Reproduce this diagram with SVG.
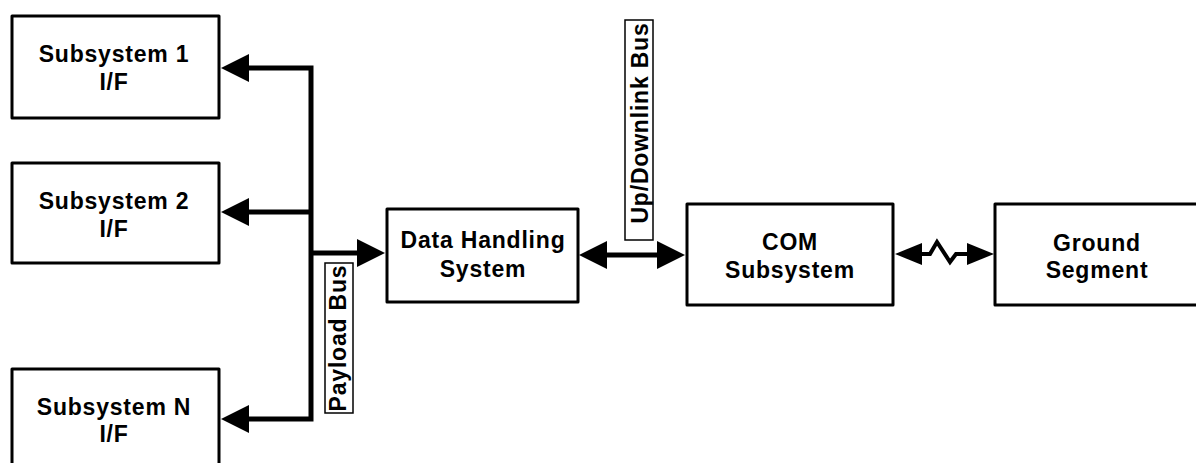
<svg xmlns="http://www.w3.org/2000/svg" width="1196" height="463" viewBox="0 0 1196 463">
  <style>
    .box { fill: #fff; stroke: #000; stroke-width: 3; stroke-linejoin: round; }
    .tag { fill: #fff; stroke: #000; stroke-width: 1.5; }
    .lbl { font-family: "Liberation Sans", Arial, sans-serif; font-weight: bold; font-size: 23px; letter-spacing: 0.8px; fill: #000; text-anchor: middle; }
    .bus { fill: none; stroke: #000; stroke-width: 5; stroke-linejoin: miter; }
    .link { fill: none; stroke: #000; stroke-width: 4; stroke-linejoin: miter; }
  </style>
  <defs>
    <marker id="head" viewBox="0 -14 28 28" refX="0" refY="0" markerWidth="28" markerHeight="28" markerUnits="userSpaceOnUse" orient="auto-start-reverse">
      <path d="M0,-14 L28,0 L0,14 Z" fill="#000"/>
    </marker>
    <marker id="headSmall" viewBox="0 -11 27 22" refX="0" refY="0" markerWidth="27" markerHeight="22" markerUnits="userSpaceOnUse" orient="auto-start-reverse">
      <path d="M0,-11 L27,0 L0,11 Z" fill="#000"/>
    </marker>
  </defs>

  <!-- connectors -->
  <g id="connectors">
    <path class="bus" d="M249,68 H311 V419 H249" marker-start="url(#head)" marker-end="url(#head)"/>
    <path class="bus" d="M311,212 H249" marker-end="url(#head)"/>
    <path class="bus" d="M311,253 H357" marker-end="url(#head)"/>
    <path class="bus" d="M607,255 H657" marker-start="url(#head)" marker-end="url(#head)"/>
    <path class="link" d="M922,254 H930 L937,242 L950,262 L956,254 H967" marker-start="url(#headSmall)" marker-end="url(#headSmall)"/>

    <g id="payload-bus-label">
      <rect class="tag" x="325" y="263" width="28" height="150"/>
      <text class="lbl" transform="translate(346,338) rotate(-90)">Payload Bus</text>
    </g>
    <g id="updownlink-bus-label">
      <rect class="tag" x="625" y="20" width="28" height="220"/>
      <text class="lbl" transform="translate(648,123) rotate(-90)">Up/Downlink Bus</text>
    </g>
  </g>

  <!-- nodes -->
  <g id="subsystem-1">
    <rect class="box" x="12" y="16" width="207" height="102"/>
    <text class="lbl" x="114" y="62">Subsystem 1</text>
    <text class="lbl" x="114" y="90">I/F</text>
  </g>
  <g id="subsystem-2">
    <rect class="box" x="12" y="163" width="207" height="100"/>
    <text class="lbl" x="114" y="209">Subsystem 2</text>
    <text class="lbl" x="114" y="237">I/F</text>
  </g>
  <g id="subsystem-n">
    <rect class="box" x="12" y="369" width="207" height="110"/>
    <text class="lbl" x="114" y="415">Subsystem N</text>
    <text class="lbl" x="114" y="442">I/F</text>
  </g>
  <g id="data-handling">
    <rect class="box" x="387" y="209" width="191" height="93"/>
    <text class="lbl" x="483" y="248">Data Handling</text>
    <text class="lbl" x="483" y="277">System</text>
  </g>
  <g id="com-subsystem">
    <rect class="box" x="687" y="204" width="206" height="101"/>
    <text class="lbl" x="790" y="250">COM</text>
    <text class="lbl" x="790" y="278">Subsystem</text>
  </g>
  <g id="ground-segment">
    <rect class="box" x="995" y="204" width="210" height="101"/>
    <text class="lbl" x="1097" y="251">Ground</text>
    <text class="lbl" x="1097" y="278">Segment</text>
  </g>
</svg>
